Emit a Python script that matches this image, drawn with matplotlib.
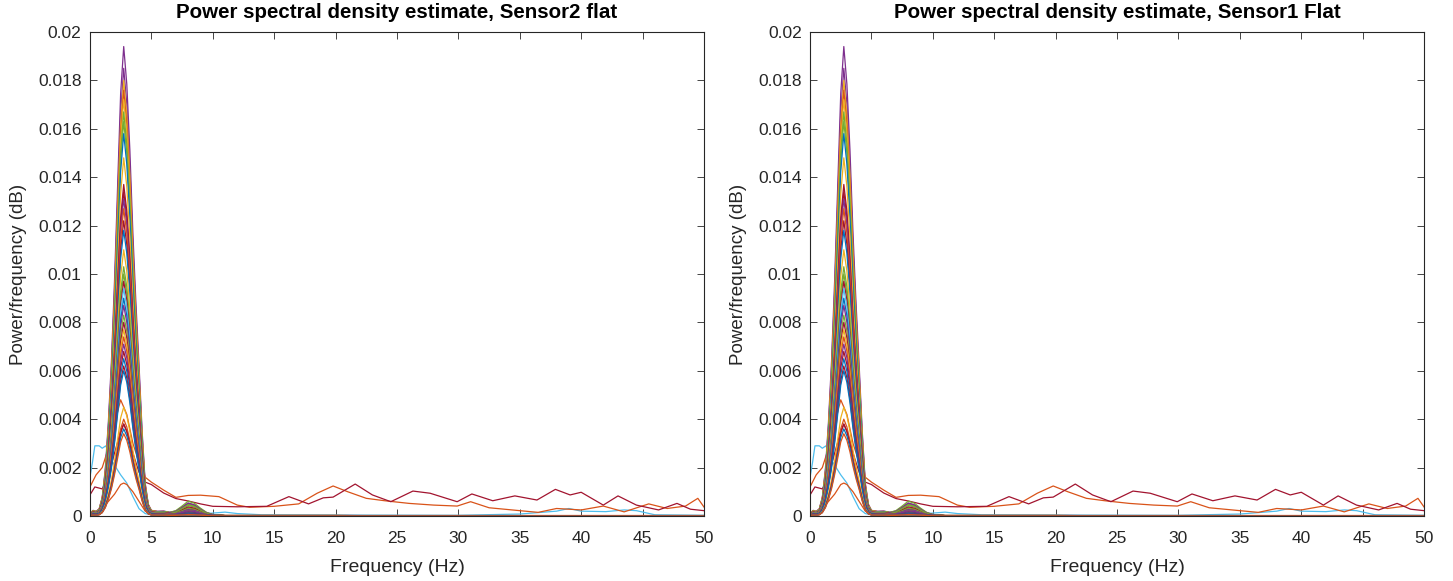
import numpy as np
import matplotlib
matplotlib.use('Agg')
import matplotlib.pyplot as plt

plt.rcParams['font.family'] = ['Liberation Sans', 'DejaVu Sans']

# MATLAB default colour order
matlab_colors = ['#0072BD', '#D95319', '#EDB120', '#7E2F8E',
                 '#77AC30', '#4DBEEE', '#A2142F']

titles = ['Power spectral density estimate, Sensor2 flat',
          'Power spectral density estimate, Sensor1 Flat']
x_ticks = [0, 5, 10, 15, 20, 25, 30, 35, 40, 45, 50]
y_ticks = [0, 0.002, 0.004, 0.006, 0.008, 0.01, 0.012, 0.014, 0.016, 0.018, 0.02]
y_tick_labels = ['0', '0.002', '0.004', '0.006', '0.008', '0.01',
                 '0.012', '0.014', '0.016', '0.018', '0.02']

# common frequency grid of the channels dominated by the ~2.7 Hz peak
bulk_freq = [0, 0.25, 0.5, 0.75, 1.0, 1.25, 1.5, 1.75, 2.0, 2.25, 2.5, 2.75,
             3.0, 3.25, 3.5, 3.75, 4.0, 4.25, 4.5, 4.75, 5.0, 5.5, 6.0, 6.5,
             7.0, 7.5, 8.0, 8.5, 9.0, 9.5, 10.0, 11.0, 12.0, 14.0, 17.0, 20.0,
             25.0, 30.0, 35.0, 40.0, 45.0, 50.0]
# peak shape relative to peak height
peak_shape = [0.005, 0.012, 0.010, 0.015, 0.04, 0.10, 0.20, 0.33, 0.50, 0.70,
              0.90, 1.00, 0.92, 0.78, 0.60, 0.45, 0.32, 0.18, 0.07, 0.025,
              0.012, 0.010, 0.010, 0.006, 0.003, 0.002, 0.002, 0.002, 0.002,
              0.002, 0.002, 0.001, 0.001, 0.001, 0.001, 0.001, 0.0005, 0.0005,
              0.0005, 0.0005, 0.0005, 0.0005]
# shape of the small 8 Hz bump
bump_shape = [0, 0, 0, 0, 0, 0, 0, 0, 0, 0, 0, 0,
              0, 0, 0, 0, 0, 0, 0, 0, 0, 0, 0.02, 0.08,
              0.3, 0.65, 1.0, 0.85, 0.5, 0.2, 0.05, 0, 0, 0, 0, 0,
              0, 0, 0, 0, 0, 0]

peak_heights = [0.0194, 0.0185, 0.0180, 0.0176, 0.0172, 0.0167, 0.0163,
                0.0158, 0.0148, 0.0137, 0.0134, 0.0131, 0.0127, 0.0122,
                0.0118, 0.0110, 0.0103, 0.0100, 0.0097, 0.0094, 0.0090,
                0.0087, 0.0083, 0.0080, 0.0077, 0.0074, 0.0071, 0.0068,
                0.0065, 0.0062, 0.0060, 0.0045, 0.0040, 0.0038, 0.0036,
                0.0034]
bump_heights = [0.00045, 0.0005, 0.0003, 0.0002, 0.00025, 0.00058, 0.0004,
                0.0002, 0.00015, 0.0003, 0.00035, 0.0005, 0.0002, 0.0003,
                0.00015, 0.0001, 0.00045, 0.0003, 0.0002, 0.0001, 0.00015,
                0.00025, 0.0002, 0.00015, 0.0001, 0.0001, 0.0002, 0.0001,
                0.00012, 0.0001, 0.00008, 0.00005, 0.00005, 0.00006,
                0.00004, 0.00005]
peak_color_idx = [3, 3, 2, 1, 2, 4, 4, 0, 2, 6, 6, 3, 1, 6, 0, 2, 4, 4,
                  6, 5, 0, 3, 4, 6, 2, 1, 3, 6, 0, 6, 0, 2, 1, 6, 0, 1]

# broadband red trace
red_freq = [0, 0.4, 1.0, 1.5, 2.0, 2.5, 2.75, 3.0, 3.5, 4.0, 4.5, 5.0, 6.0,
            7.0, 8.0, 9.0, 10.0, 12.0, 14.4, 16.2, 17.8, 19.0, 19.8, 21.6,
            23.0, 24.5, 26.3, 27.7, 29.9, 31.1, 32.8, 34.6, 36.4, 37.9, 39.1,
            40.0, 41.8, 43.0, 44.5, 46.3, 47.8, 48.9, 50.0]
red_psd = [0.00087, 0.0012, 0.00112, 0.0016, 0.0026, 0.0035, 0.0038, 0.0035,
           0.0026, 0.0018, 0.0014, 0.0013, 0.00095, 0.00072, 0.00062, 0.0005,
           0.0004, 0.00038, 0.0004, 0.0008, 0.0005, 0.00075, 0.00078,
           0.00132, 0.00087, 0.00059, 0.00103, 0.00094, 0.00059, 0.00091,
           0.00063, 0.00083, 0.00066, 0.0011, 0.00087, 0.00098, 0.00045,
           0.00083, 0.00045, 0.00025, 0.00052, 0.00028, 0.00022]

# broadband orange trace
orange_freq = [0, 0.5, 1.0, 1.5, 2.0, 2.5, 3.0, 3.5, 4.0, 4.5, 5.0, 6.0, 7.0,
               8.0, 9.0, 10.5, 12.0, 13.0, 15.0, 17.0, 18.5, 19.8, 21.0, 22.5,
               24.0, 26.0, 28.0, 29.9, 31.0, 32.5, 35.0, 36.5, 38.0, 40.0,
               41.8, 43.5, 45.5, 47.0, 48.5, 49.5, 50.0]
orange_psd = [0.0012, 0.0017, 0.002, 0.0028, 0.0038, 0.0048, 0.0042, 0.003,
              0.0022, 0.0016, 0.0014, 0.00107, 0.00077, 0.00085, 0.00086,
              0.0008, 0.00045, 0.00036, 0.0004, 0.0005, 0.00094, 0.00124,
              0.001, 0.00073, 0.00063, 0.00052, 0.00045, 0.00041, 0.00059,
              0.00034, 0.00022, 0.00015, 0.00031, 0.00025, 0.00041, 0.00017,
              0.0005, 0.00031, 0.00041, 0.00073, 0.00037]

# low, wide orange hump
hump_freq = [0, 0.5, 1.0, 1.5, 2.0, 2.5, 2.75, 3.0, 3.5, 4.0, 4.5, 5.0, 6.0,
             10.0, 20.0, 30.0, 40.0, 50.0]
hump_psd = [0.00005, 0.0001, 0.0003, 0.0006, 0.0009, 0.0013, 0.00136, 0.0013,
            0.001, 0.0006, 0.0002, 0.00005, 0.00003, 0.00002, 0.00002,
            0.00002, 0.00002, 0.00002]

# light blue trace with the 0-1.5 Hz plateau
cyan_freq = [0, 0.2, 0.4, 0.75, 1.0, 1.3, 1.6, 2.0, 2.5, 3.0, 3.5, 4.0, 4.5,
             5.0, 6.0, 8.0, 10.0, 11.0, 12.0, 14.0, 20.0, 30.0, 35.0, 38.0,
             39.0, 40.0, 42.0, 43.5, 44.5, 46.0, 50.0]
cyan_psd = [0.0016, 0.0022, 0.0029, 0.0029, 0.0028, 0.0029, 0.00245, 0.0021,
            0.0017, 0.00136, 0.0008, 0.0003, 0.0001, 0.00005, 0.00004,
            0.00006, 0.00012, 0.00016, 0.0001, 0.00005, 0.00004, 0.00003,
            0.00008, 0.0002, 0.00031, 0.0002, 0.00018, 0.00025, 0.00022,
            0.00005, 0.00003]


fig = plt.figure(figsize=(14.53, 5.81), dpi=100)
ax_pos = [[0.0619, 0.1119, 0.4226, 0.833],
          [0.5575, 0.1119, 0.4226, 0.833]]

fx = np.array(bulk_freq)
shape = np.array(peak_shape)
bump = np.array(bump_shape)

for pos, title in zip(ax_pos, titles):
    ax = fig.add_axes(pos)
    lw = 0.9
    ax.plot(cyan_freq, cyan_psd, color=matlab_colors[5], lw=lw)
    ax.plot(hump_freq, hump_psd, color=matlab_colors[1], lw=lw)
    ax.plot(orange_freq, orange_psd, color=matlab_colors[1], lw=lw)
    ax.plot(red_freq, red_psd, color=matlab_colors[6], lw=lw)
    for h, b, ci in zip(peak_heights, bump_heights, peak_color_idx):
        ax.plot(fx, h * shape + b * bump, color=matlab_colors[ci], lw=lw)

    ax.set_xlim(0, 50)
    ax.set_ylim(0, 0.02)
    ax.set_xticks(x_ticks)
    ax.set_yticks(y_ticks)
    ax.set_yticklabels(y_tick_labels)
    ax.tick_params(direction='in', top=True, right=True, length=5,
                   width=0.6, labelsize=12.5, colors='#262626')
    ax.tick_params(axis='y', pad=6)
    ax.tick_params(axis='x', pad=11)
    for s in ax.spines.values():
        s.set_color('#262626')
        s.set_linewidth(0.8)
    ax.set_xlabel('Frequency (Hz)', fontsize=14, color='#262626', labelpad=9)
    ax.set_ylabel('Power/frequency (dB)', fontsize=13.5, color='#262626',
                  labelpad=8)
    ax.set_title(title, fontsize=14.8, fontweight='bold', pad=10)

fig.savefig('out.png', dpi=100)
